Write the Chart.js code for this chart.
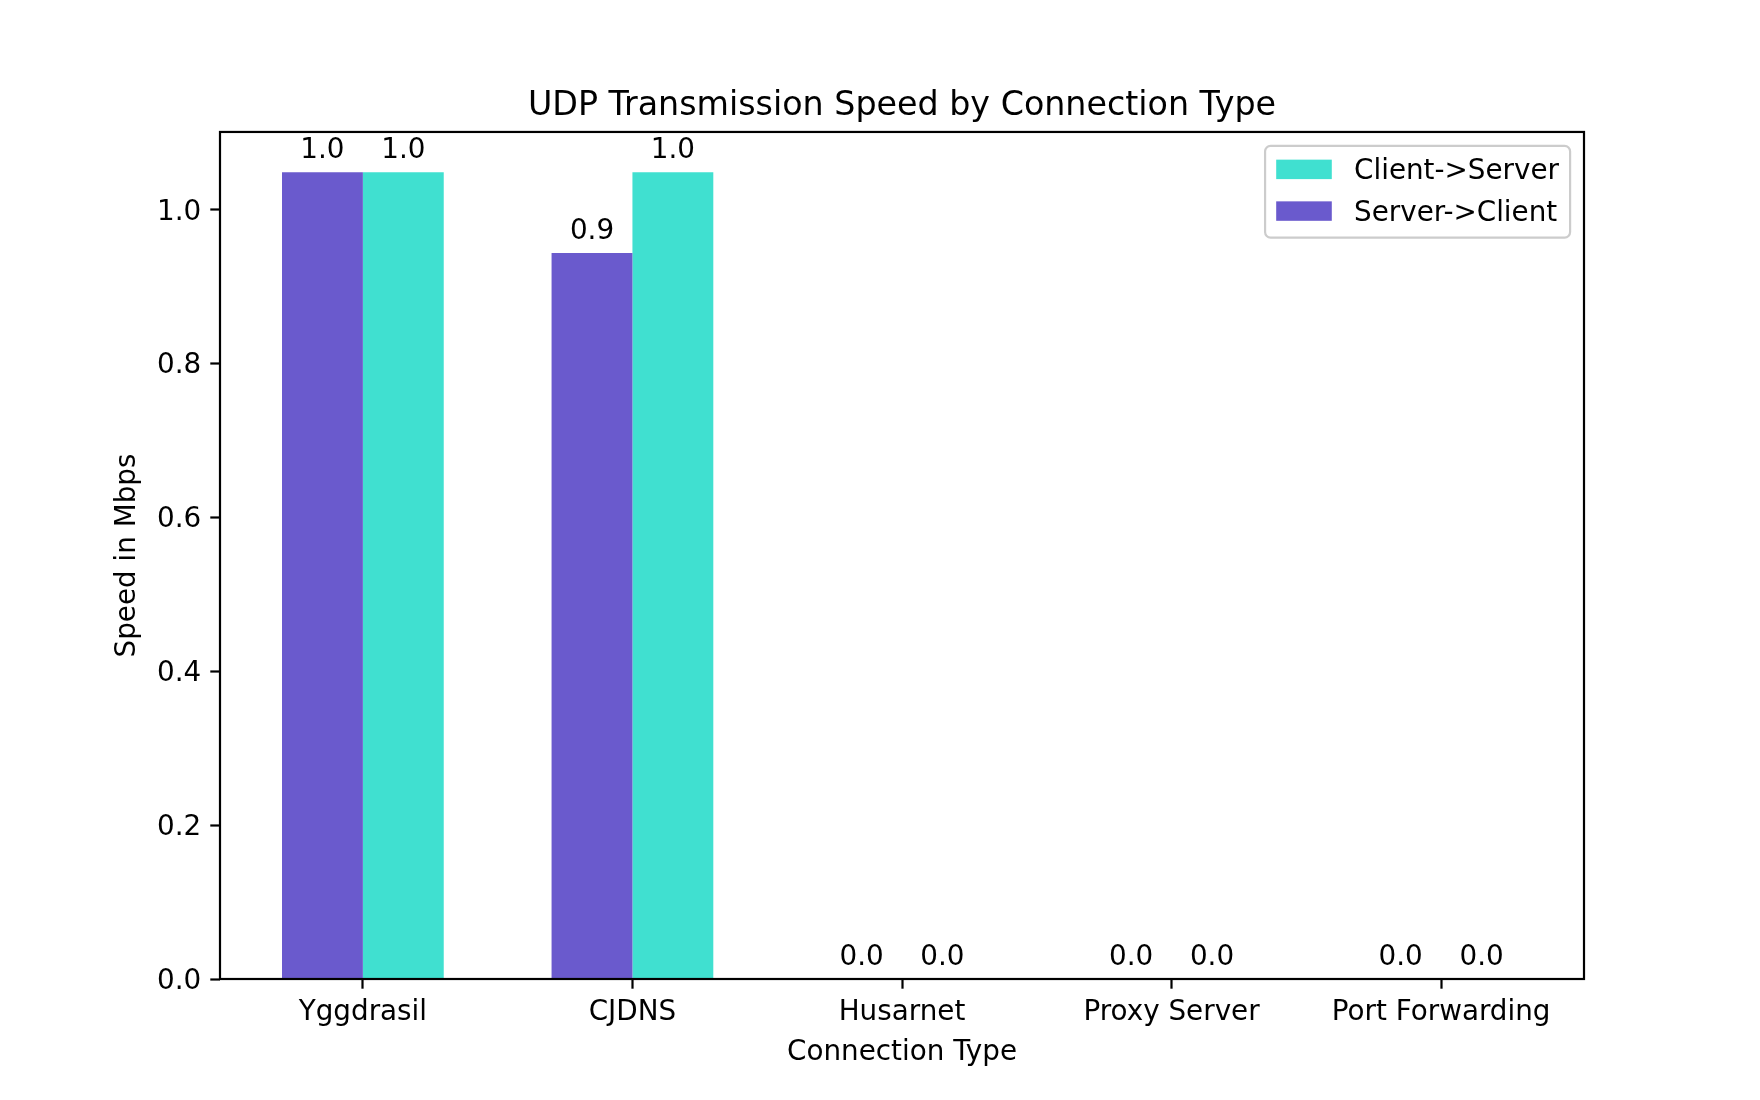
<!DOCTYPE html>
<html><head><meta charset="utf-8">
<script src="https://cdn.jsdelivr.net/npm/chart.js@4"></script>
<style>html,body{margin:0;padding:0;background:#fff}#wrap{width:1760px;height:1100px}</style>
</head><body><div id="wrap"><canvas id="c" width="1760" height="1100"></canvas></div>
<script>
const categories = ['Yggdrasil', 'CJDNS', 'Husarnet', 'Proxy Server', 'Port Forwarding'];
const serverToClient = [1.049, 0.944, 0, 0, 0];
const clientToServer = [1.049, 1.049, 0, 0, 0];
const yTicks = [0, 0.2, 0.4, 0.6, 0.8, 1.0];
const seriesNames = ['Server->Client', 'Client->Server'];
const legendOrder = [1, 0];

const FONT = "'DejaVu Sans'";
const FS = 27.8;
const PURPLE = '#6A5ACD', TEAL = '#40E0D0';

const frame = {
  id: 'frame',
  afterDatasetsDraw(chart) {
    const {ctx, chartArea: a} = chart;
    ctx.save();
    ctx.strokeStyle = '#000';
    ctx.lineWidth = 2.2;
    ctx.strokeRect(a.left, a.top, a.right - a.left, a.bottom - a.top);
    ctx.restore();
  }
};

const barLabels = {
  id: 'barLabels',
  afterDatasetsDraw(chart) {
    const ctx = chart.ctx;
    ctx.save();
    ctx.font = `${FS}px ${FONT}`;
    ctx.fillStyle = '#000';
    ctx.textAlign = 'center';
    ctx.textBaseline = 'alphabetic';
    chart.data.datasets.forEach((ds, d) => {
      const meta = chart.getDatasetMeta(d);
      meta.data.forEach((bar, i) => {
        const v = ds.data[i].y;
        ctx.fillText(v.toFixed(1), bar.x, bar.y - 14);
      });
    });
    ctx.restore();
  }
};

const boxLegend = {
  id: 'boxLegend',
  afterDraw(chart) {
    const {ctx, chartArea: a} = chart;
    const pad = 0.5 * FS, bp = 0.4 * FS, hl = 2 * FS, htp = 0.8 * FS, ls = 0.5 * FS;
    ctx.save();
    ctx.font = `${FS}px ${FONT}`;
    const items = legendOrder.map(k => chart.data.datasets[k]);
    const tw = Math.max(...items.map(it => ctx.measureText(it.label).width));
    const w = bp * 2 + hl + htp + tw;
    const h = bp * 2 + items.length * FS + (items.length - 1) * ls;
    const x = a.right - pad - w, y = a.top + pad;
    ctx.beginPath();
    ctx.roundRect(x, y, w, h, 5.5);
    ctx.fillStyle = 'rgba(255,255,255,0.8)';
    ctx.fill();
    ctx.strokeStyle = '#cccccc';
    ctx.lineWidth = 2.2;
    ctx.stroke();
    items.forEach((it, k) => {
      const cy = y + bp + FS / 2 + k * (FS + ls) - 1.5;
      ctx.fillStyle = it.backgroundColor;
      ctx.fillRect(x + bp, cy - 0.35 * FS, hl, 0.7 * FS);
      ctx.fillStyle = '#000';
      ctx.textAlign = 'left';
      ctx.textBaseline = 'alphabetic';
      ctx.fillText(it.label, x + bp + hl + htp, cy + 0.35 * FS);
    });
    ctx.restore();
  }
};

const tickGrid = {display: true, offset: false, drawOnChartArea: false, drawTicks: true, tickLength: 9.7, tickColor: '#000', tickWidth: 2.2};

new Chart(document.getElementById('c'), {
  type: 'bar',
  data: {
    datasets: [
      {label: seriesNames[0], data: categories.map((c, i) => ({x: i, y: serverToClient[i]})), backgroundColor: PURPLE, borderWidth: 0, categoryPercentage: 0.6, barPercentage: 1.0},
      {label: seriesNames[1], data: categories.map((c, i) => ({x: i, y: clientToServer[i]})), backgroundColor: TEAL, borderWidth: 0, categoryPercentage: 0.6, barPercentage: 1.0}
    ]
  },
  options: {
    responsive: false, animation: false, devicePixelRatio: 1,
    layout: {padding: {left: 44, right: 0, top: 0, bottom: 0}},
    plugins: {
      legend: {display: false}, tooltip: {enabled: false},
      title: {display: true, text: 'UDP Transmission Speed by Connection Type', color: '#000',
        font: {family: FONT, size: 33.3, weight: 'normal', lineHeight: 1.2}, padding: {top: 86.2, bottom: 5.8}}
    },
    scales: {
      x: {
        type: 'linear', min: -0.53, max: 4.53, offset: false,
        afterBuildTicks: s => { s.ticks = categories.map((c, i) => ({value: i})); },
        afterFit: s => { s.height = 121; },
        ticks: {callback: v => categories[v], color: '#000', font: {family: FONT, size: FS}, padding: 7, maxRotation: 0, autoSkip: false},
        grid: tickGrid, border: {display: false},
        title: {display: true, text: 'Connection Type', color: '#000', font: {family: FONT, size: FS, lineHeight: 1.2}, padding: {top: 0, bottom: 31}}
      },
      y: {
        min: 0, max: 1.1014,
        afterBuildTicks: s => { s.ticks = yTicks.map(v => ({value: v})); },
        afterFit: s => { s.width = 176; },
        ticks: {callback: v => v.toFixed(1), color: '#000', font: {family: FONT, size: FS}, padding: 9, labelOffset: 2.5},
        grid: tickGrid, border: {display: false},
        title: {display: true, text: 'Speed in Mbps', color: '#000', font: {family: FONT, size: FS, lineHeight: 1.2}, padding: {top: 67.3, bottom: 0}}
      },
      yRight: {
        position: 'right', display: true, min: 0, max: 1.1014,
        afterFit: s => { s.width = 176; },
        ticks: {display: false}, grid: {display: false}, border: {display: false}
      }
    }
  },
  plugins: [frame, barLabels, boxLegend]
});
</script></body></html>
